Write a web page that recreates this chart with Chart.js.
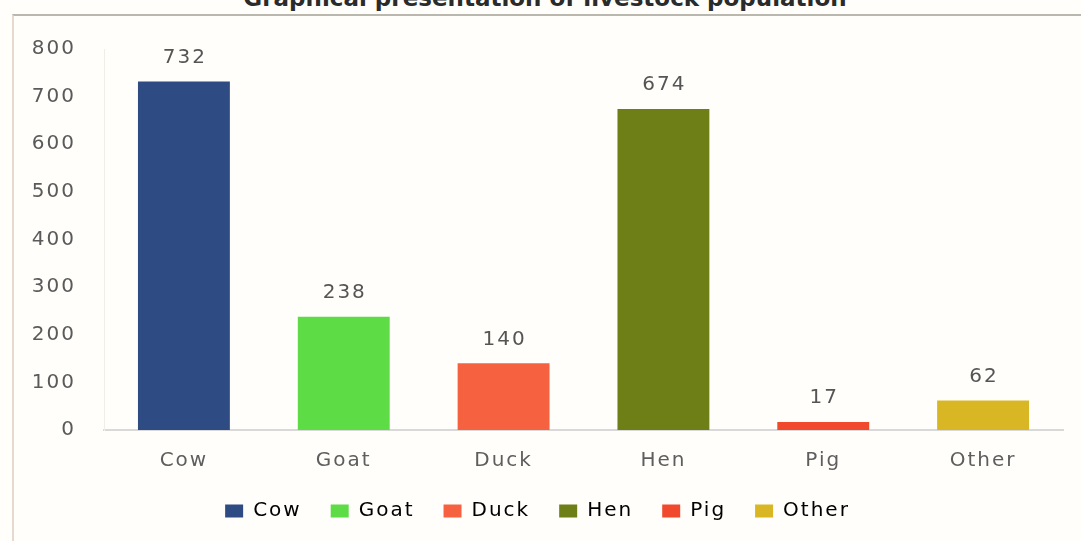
<!DOCTYPE html>
<html>
<head>
<meta charset="utf-8">
<script src="https://cdn.jsdelivr.net/npm/chart.js@4.4.1/dist/chart.umd.min.js"></script>
<style>
  html, body { margin: 0; padding: 0; background: #fffefa; }
  body { width: 1081px; height: 541px; position: relative; overflow: hidden; }
  #title {
    position: absolute; left: 0; width: 1090px; top: -15px; text-align: center;
    font: bold 23px "DejaVu Sans", sans-serif; color: #2b2b2b;
  }
  #box {
    position: absolute; left: 12px; top: 14px; width: 1069px; height: 527px;
    border-top: 2px solid #b9b7ae; border-left: 2px solid #e6d9cf;
  }
  #wrap { position: absolute; left: 12px; top: 15px; width: 1063px; height: 524px; }
</style>
</head>
<body>
<div id="title">Graphical presentation of livestock population</div>
<div id="box"></div>
<div id="wrap"><canvas id="bar-chart"></canvas></div>
<script>
const categories = ["Cow", "Goat", "Duck", "Hen", "Pig", "Other"];
const population = [732, 238, 140, 674, 17, 62];
const yTicks = [0, 100, 200, 300, 400, 500, 600, 700, 800];
const barColors = ["#2e4b84", "#5ddc45", "#f6623f", "#6f7f17", "#f0492d", "#d9b624"];

const FONT = "DejaVu Sans";
const SPACING = "2px";

// the scanned chart has wide lettering
const wideText = {
  id: "wideText",
  beforeLayout(chart) { chart.ctx.letterSpacing = SPACING; },
  beforeDraw(chart) { chart.ctx.letterSpacing = SPACING; },
};

// writes the number above each bar
const valueLabels = {
  id: "valueLabels",
  afterDatasetsDraw(chart) {
    const ctx = chart.ctx;
    const meta = chart.getDatasetMeta(0);
    ctx.save();
    ctx.font = "20px " + FONT;
    ctx.fillStyle = "#555555";
    ctx.textAlign = "center";
    ctx.textBaseline = "middle";
    meta.data.forEach((bar, i) => {
      ctx.fillText(population[i], bar.x + 1, bar.y - 24);
    });
    ctx.restore();
  }
};

function drawBarCh() {
  const ctx = document.getElementById("bar-chart").getContext("2d");
  new Chart(ctx, {
    type: "bar",
    data: {
      labels: categories,
      datasets: [
        {
          data: population,
          backgroundColor: barColors,
          barPercentage: 0.575,
          categoryPercentage: 1.0,
        },
      ],
    },
    options: {
      responsive: true,
      maintainAspectRatio: false,
      animation: false,
      layout: { padding: { left: 0, right: 12, top: 34, bottom: 8 } },
      scales: {
        x: {
          grid: { display: false, drawTicks: false },
          border: { display: true, color: "#d9d9d9", width: 2 },
          ticks: { color: "#5e5e5e", font: { size: 20, family: FONT }, padding: 19 },
          afterFit(scale) { scale.height = 42; },
        },
        y: {
          min: 0,
          max: 800,
          afterBuildTicks(scale) { scale.ticks = yTicks.map(v => ({ value: v })); },
          grid: { display: false, drawTicks: false },
          border: { display: true, color: "#efefe6", width: 1 },
          ticks: { color: "#5a5a5a", font: { size: 20, family: FONT }, padding: 28 },
          afterFit(scale) {
            scale.width = 92;
            scale.paddingTop = 0;
            scale.paddingBottom = 0;
          },
        },
      },
      plugins: {
        title: { display: false },
        tooltip: { enabled: false },
        legend: {
          display: true,
          position: "bottom",
          labels: {
            color: "#555555",
            font: { size: 20, family: FONT },
            boxWidth: 18,
            boxHeight: 13,
            padding: 29,
            generateLabels() {
              return categories.map((c, i) => ({
                text: c,
                fillStyle: barColors[i],
                strokeStyle: barColors[i],
                lineWidth: 0,
                index: i,
              }));
            },
          },
        },
      },
    },
    plugins: [wideText, valueLabels],
  });
}

drawBarCh();
</script>
</body>
</html>
